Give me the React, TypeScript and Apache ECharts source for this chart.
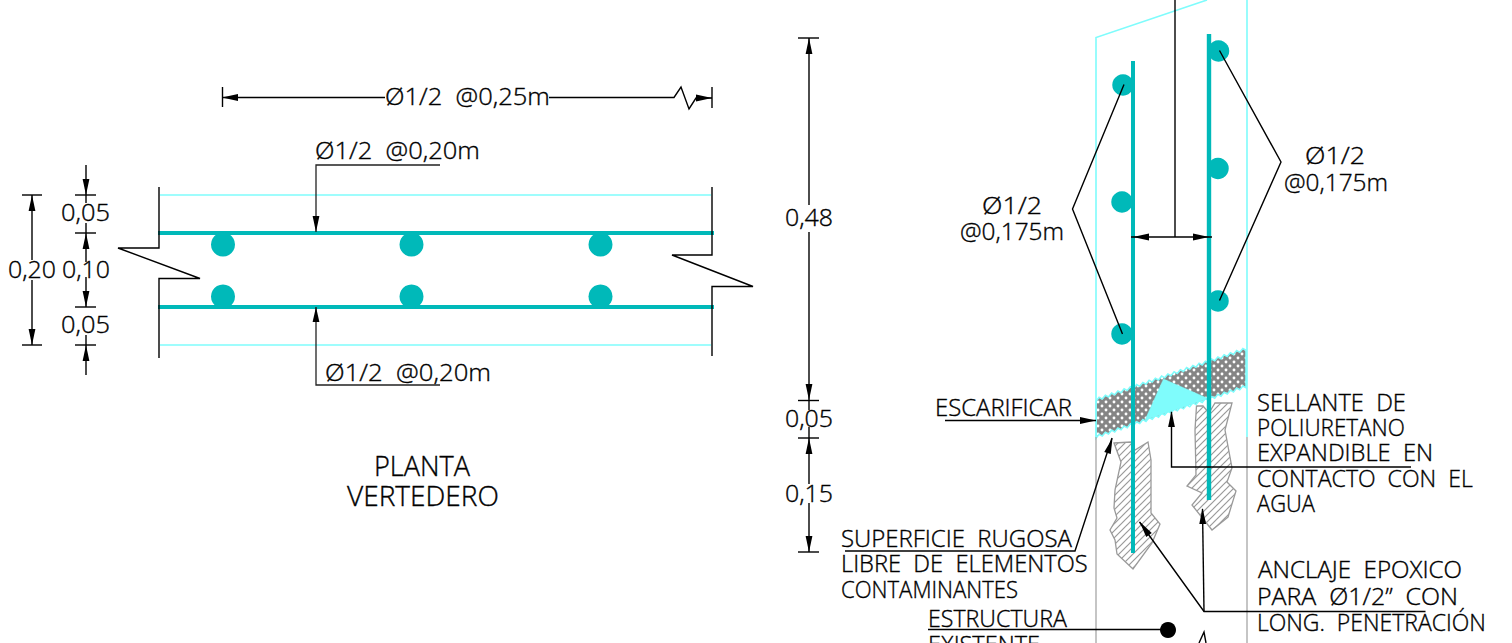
import React, { useEffect, useRef } from "react";
import * as echarts from "echarts";

type Pt = [number, number];

const BLACK = "#000000";
const LEADER = "#222222";
const TEAL = "#00b9b9";
const CYAN = "#7ffcfc";
const GREY = "#a6a6a6";
const HATCH = "#9a9a9a";
const FONT = "'Open Sans', 'DejaVu Sans', sans-serif";

// text, left edge, right edge, vertical centre, font size
const planTexts: [string, number, number, number, number][] = [
  ["Ø1/2  @0,25m", 385, 550, 96, 23],
  ["Ø1/2  @0,20m", 315, 480, 150, 23],
  ["Ø1/2  @0,20m", 325, 491, 372, 23],
  ["0,05", 61, 110, 212, 23],
  ["0,10", 62, 110, 269, 23],
  ["0,20", 8, 56, 269, 23],
  ["0,05", 61, 110, 324, 23],
  ["PLANTA", 374, 470, 466, 27],
  ["VERTEDERO", 347, 499, 496, 27],
];
const sectionTexts: [string, number, number, number, number][] = [
  ["0,48", 785, 833, 217, 23],
  ["0,05", 785, 833, 418, 23],
  ["0,15", 785, 833, 493, 23],
  ["Ø1/2", 1305, 1365, 155, 23],
  ["@0,175m", 1284, 1388, 182, 23],
  ["Ø1/2", 982, 1042, 205, 23],
  ["@0,175m", 960, 1064, 231, 23],
  ["ESCARIFICAR", 935, 1072, 407, 23],
  ["SUPERFICIE  RUGOSA", 841, 1072, 538, 23],
  ["LIBRE  DE  ELEMENTOS", 841, 1088, 563, 23],
  ["CONTAMINANTES", 841, 1018, 589, 23],
  ["ESTRUCTURA", 928, 1067, 618, 23],
  ["EXISTENTE", 928, 1040, 644, 23],
  ["SELLANTE  DE", 1257, 1406, 402, 23],
  ["POLIURETANO", 1257, 1405, 427, 23],
  ["EXPANDIBLE  EN", 1257, 1433, 452, 23],
  ["CONTACTO  CON  EL", 1257, 1473, 478, 23],
  ["AGUA", 1257, 1315, 503, 23],
  ["ANCLAJE  EPOXICO", 1258, 1462, 569, 23],
  ["PARA  Ø1/2”  CON", 1257, 1458, 596, 23],
  ["LONG.  PENETRACIÓN", 1257, 1486, 622, 23],
];

// thin black drawing lines
const blackLines: Pt[][] = [
  [[222.5, 87], [222.5, 107]],
  [[222, 97.5], [385, 97.5]],
  [[549, 97.5], [674, 97.5], [681, 87], [689, 109], [696, 98], [712, 98]],
  [[712, 87], [712, 108]],
  [[159, 187], [159, 248], [118, 248], [200, 278.5], [159, 278.5], [159, 358]],
  [[712, 187], [712, 255], [672, 255], [753, 286.5], [712, 286.5], [712, 356]],
  [[22, 195], [42, 195]],
  [[22, 345], [42, 345]],
  [[32, 195], [32, 260]],
  [[32, 280], [32, 345]],
  [[75, 195], [96, 195]],
  [[75, 233], [96, 233]],
  [[75, 307], [96, 307]],
  [[75, 345], [96, 345]],
  [[86, 165], [86, 203]],
  [[86, 223], [86, 262]],
  [[86, 277], [86, 307]],
  [[86, 335], [86, 375]],
  [[798, 38], [819, 38]],
  [[798, 400.5], [819, 400.5]],
  [[798, 438], [819, 438]],
  [[798, 552], [819, 552]],
  [[809, 38], [809, 205]],
  [[809, 232], [809, 410]],
  [[809, 427], [809, 484]],
  [[809, 503], [809, 552]],
  [[1175, 0], [1175, 237]],
  [[1131, 237], [1212, 237]],
  [[1124, 84.5], [1072.5, 209], [1122.5, 334]],
  [[1219.5, 50.5], [1281, 162], [1219.5, 300.5]],
  [[945, 420.5], [1096, 420.5]],
  [[1411, 467], [1171.5, 467], [1171.5, 412]],
  [[1425.5, 611.5], [1204, 611.5], [1139.5, 522]],
  [[1204, 611.5], [1202.5, 509]],
  [[928, 629.5], [1168, 629.5]],
  [[845, 551], [1075, 551], [1112, 438]],
  [[1199, 643], [1204, 632], [1206, 643]],
];
const planLeaders: Pt[][] = [
  [[440, 165], [316, 165], [316, 232]],
  [[440, 385], [316, 385], [316, 307]],
];
const cyanLines: Pt[][] = [
  [[160, 195], [711, 195]],
  [[160, 345], [711, 345]],
  [[1096, 437], [1096, 37.5], [1207, 0]],
  [[1247, 0], [1247, 437]],
];
const greyLines: Pt[][] = [
  [[1096, 437], [1096, 643]],
  [[1247, 437], [1247, 643]],
];
const tealLines: [Pt[], number][] = [
  [[[158, 233], [714, 233]], 4],
  [[[158, 307], [714, 307]], 4],
  [[[1133, 61], [1133, 553]], 4],
  [[[1209, 34], [1209, 500]], 4.4],
];

const planBars: Pt[] = [
  [223, 244.5], [411.5, 244.5], [600.5, 244.5],
  [223, 296.5], [411.5, 296.5], [600.5, 296.5],
];
const sectionBars: Pt[] = [
  [1123, 85], [1122, 202], [1122, 334],
  [1218.5, 51], [1218, 168.5], [1218, 301],
];
const anchorDot: Pt[] = [[1168, 630]];

// tip, then the middle of the arrow's base
const arrows: [Pt, Pt][] = [
  [[222, 97.5], [238, 97.5]],
  [[712, 98], [696, 98]],
  [[316, 232], [316, 216]],
  [[316, 307], [316, 322]],
  [[32, 195], [32, 211]],
  [[32, 345], [32, 329]],
  [[86, 195], [86, 179]],
  [[86, 233], [86, 249]],
  [[86, 307], [86, 291]],
  [[86, 345], [86, 361]],
  [[809, 38], [809, 54]],
  [[809, 400], [809, 384]],
  [[809, 438], [809, 454]],
  [[809, 552], [809, 536]],
  [[1133, 237], [1149, 237]],
  [[1209, 237], [1193, 237]],
  [[1096, 420.5], [1080, 420.5]],
  [[1112.5, 438], [1107.5, 453]],
  [[1171.5, 411], [1171.5, 427]],
  [[1139.5, 521.5], [1149, 535]],
  [[1202.5, 508], [1202.7, 524]],
];

const anchorLeft: Pt[] = [
  [1114, 443], [1131, 442], [1135, 450], [1148, 442], [1151, 460], [1151, 513], [1160, 524],
  [1152, 543], [1133, 569], [1117, 554], [1115, 540], [1110, 530], [1117, 518], [1114, 508],
  [1115, 490], [1121, 462],
];
const anchorRight: Pt[] = [
  [1196.5, 406], [1203, 406], [1209, 413], [1215, 403], [1232, 403], [1225, 430], [1232, 468],
  [1227, 482], [1236, 491], [1228, 517], [1212, 530], [1192, 505], [1202, 493], [1187, 486],
  [1196, 475], [1195, 430],
];
const sealant: Pt[] = [[1163.5, 379], [1208, 398.5], [1145, 420]];
const bandTop: [Pt, Pt] = [[1096, 400], [1246, 349]];
const bandBottom: [Pt, Pt] = [[1096, 437], [1246, 386.5]];
const TEETH = 24;

function jagged([a, b]: [Pt, Pt]): Pt[] {
  const pts: Pt[] = [];
  for (let i = 0; i <= TEETH * 2; i++) {
    const t = i / (TEETH * 2);
    pts.push([a[0] + (b[0] - a[0]) * t, a[1] + (b[1] - a[1]) * t + (i % 2 ? -1.6 : 1.2)]);
  }
  return pts;
}

function pattern(draw: (c: CanvasRenderingContext2D) => void, size: number) {
  const cv = document.createElement("canvas");
  cv.width = size;
  cv.height = size;
  draw(cv.getContext("2d")!);
  return { image: cv, repeat: "repeat" } as any;
}

const lineSeries = (points: Pt[], color: string, width: number, z = 3) => ({
  type: "line",
  data: points,
  showSymbol: false,
  symbol: "none",
  silent: true,
  z,
  lineStyle: { color, width, cap: "butt", join: "miter" },
});

const polySeries = (points: Pt[], style: any, z: number) => ({
  type: "custom",
  coordinateSystem: "cartesian2d",
  data: [0],
  silent: true,
  z,
  renderItem: (_: any, api: any) => ({
    type: "polygon",
    shape: { points: points.map((p) => api.coord(p)) },
    style,
  }),
});

const dotSeries = (points: Pt[], size: number, color: string, z: number) => ({
  type: "scatter",
  data: points,
  symbol: "circle",
  symbolSize: size,
  silent: true,
  z,
  itemStyle: { color, opacity: 1 },
});

export default function App() {
  const ref = useRef<HTMLDivElement>(null);
  useEffect(() => {
    document.body.style.margin = "0";
    const chart = echarts.init(ref.current!, undefined, { renderer: "svg" });
    const measure = document.createElement("canvas").getContext("2d")!;
    const crossHatch = pattern((c) => {
      c.fillStyle = "#858585";
      c.fillRect(0, 0, 8, 8);
      c.fillStyle = "#ffffff";
      [[2, 2], [6, 6]].forEach(([x, y]) => {
        c.beginPath();
        c.arc(x, y, 1.45, 0, Math.PI * 2);
        c.fill();
      });
    }, 8);
    const diagonal = pattern((c) => {
      c.fillStyle = "#ffffff";
      c.fillRect(0, 0, 7, 7);
      c.strokeStyle = HATCH;
      c.lineWidth = 1.2;
      [[-7, 7, 7, -7], [0, 7, 7, 0], [0, 14, 14, 0]].forEach(([a, b, d, e]) => {
        c.beginPath();
        c.moveTo(a, b);
        c.lineTo(d, e);
        c.stroke();
      });
    }, 7);
    const band = [...jagged(bandTop), ...jagged(bandBottom).reverse()];
    const texts = [...planTexts, ...sectionTexts];

    chart.setOption({
      animation: false,
      backgroundColor: "#ffffff",
      grid: { left: 0, top: 0, right: 0, bottom: 0 },
      xAxis: { type: "value", min: 0, max: 1512, show: false },
      yAxis: { type: "value", min: 0, max: 643, inverse: true, show: false },
      series: [
        polySeries(anchorLeft, { fill: diagonal, stroke: HATCH, lineWidth: 1.3 }, 1),
        polySeries(anchorRight, { fill: diagonal, stroke: HATCH, lineWidth: 1.3 }, 1),
        polySeries(band, { fill: crossHatch, stroke: CYAN, lineWidth: 1.6 }, 2),
        polySeries(sealant, { fill: CYAN, stroke: CYAN, lineWidth: 0.5 }, 2),
        ...cyanLines.map((l) => lineSeries(l, CYAN, 1.6, 2)),
        ...greyLines.map((l) => lineSeries(l, GREY, 1.3, 2)),
        ...tealLines.map(([l, w]) => lineSeries(l, TEAL, w, 4)),
        dotSeries(planBars, 24, TEAL, 4),
        dotSeries(sectionBars, 21.5, TEAL, 4),
        dotSeries(anchorDot, 16, BLACK, 6),
        ...blackLines.map((l) => lineSeries(l, BLACK, 1.4, 5)),
        ...planLeaders.map((l) => lineSeries(l, LEADER, 1.3, 5)),
        {
          type: "custom",
          coordinateSystem: "cartesian2d",
          data: arrows.map((_, i) => i),
          silent: true,
          z: 6,
          renderItem: (params: any, api: any) => {
            const [tip, base] = arrows[params.dataIndex];
            const a = api.coord(tip);
            const b = api.coord(base);
            const dx = b[0] - a[0];
            const dy = b[1] - a[1];
            const len = Math.hypot(dx, dy) || 1;
            const nx = (-dy / len) * 3.4;
            const ny = (dx / len) * 3.4;
            return {
              type: "polygon",
              shape: { points: [a, [b[0] + nx, b[1] + ny], [b[0] - nx, b[1] - ny]] },
              style: { fill: BLACK },
            };
          },
        },
        {
          type: "custom",
          coordinateSystem: "cartesian2d",
          data: texts.map((_, i) => i),
          silent: true,
          z: 7,
          renderItem: (params: any, api: any) => {
            const [text, x0, x1, yc, size] = texts[params.dataIndex];
            const font = `300 ${size}px ${FONT}`;
            measure.font = font;
            const w = measure.measureText(text).width || 1;
            const p = api.coord([x0, yc]);
            return {
              type: "text",
              x: p[0],
              y: p[1],
              scaleX: (x1 - x0) / w,
              style: {
                text,
                fill: BLACK,
                stroke: BLACK,
                lineWidth: 0.35,
                font,
                align: "left",
                verticalAlign: "middle",
              },
            };
          },
        },
      ],
    });
    return () => chart.dispose();
  }, []);
  return (
    <div
      ref={ref}
      style={{ position: "fixed", left: 0, top: 0, width: 1512, height: 643 }}
    />
  );
}
